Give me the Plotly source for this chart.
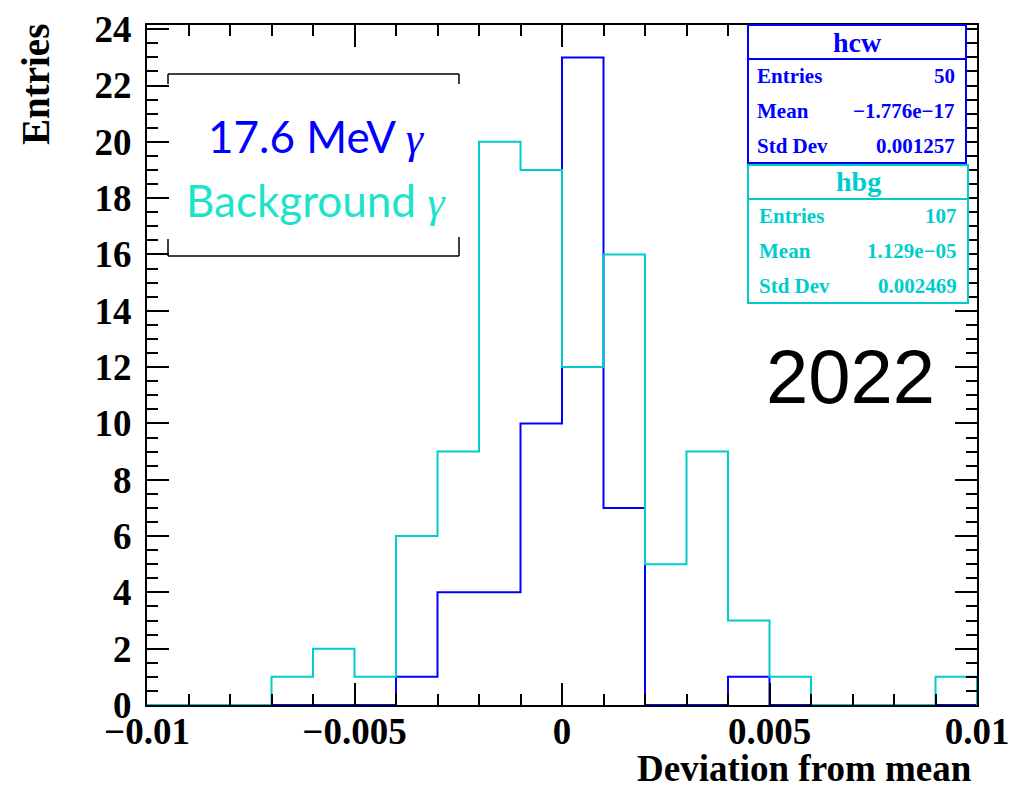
import plotly.graph_objects as go

# ---- data ----
bin_edges = [round(-0.010 + 0.001 * i, 3) for i in range(21)]
hcw_counts = [0, 0, 0, 0, 0, 0, 1, 4, 4, 10, 23, 7, 0, 0, 1, 0, 0, 0, 0, 0]
hbg_counts = [0, 0, 0, 1, 2, 1, 6, 9, 20, 19, 12, 16, 5, 9, 3, 1, 0, 0, 0, 1]
x_tickvals = [-0.01, -0.005, 0, 0.005, 0.01]
x_ticktext = ["\u22120.01", "\u22120.005", "0", "0.005", "0.01"]
y_tickvals = [0, 2, 4, 6, 8, 10, 12, 14, 16, 18, 20, 22, 24]
hcw_stats = [("Entries", "50"), ("Mean", "\u22121.776e\u221217"), ("Std Dev", "0.001257")]
hbg_stats = [("Entries", "107"), ("Mean", "1.129e\u221205"), ("Std Dev", "0.002469")]

BLUE = "#0000ff"
CYAN = "#00cccc"
TEAL = "#1ee3cb"

W, H = 1015, 792
L, R, T, B = 147, 977, 25, 705


def px(x):
    return (x - L) / (R - L)


def py(y):
    return (B - y) / (B - T)


def step(edges, counts):
    xs = [edges[0]] + list(edges) + [edges[-1]]
    ys = [0] + list(counts) + [counts[-1], 0]
    return xs, ys


fig = go.Figure()
for counts, color, name in [(hcw_counts, BLUE, "hcw"), (hbg_counts, CYAN, "hbg")]:
    xs, ys = step(bin_edges, counts)
    fig.add_trace(go.Scatter(x=xs, y=ys, mode="lines", line=dict(color=color, width=2, shape="hv"),
                             name=name, showlegend=False, hoverinfo="skip"))

tickfont = dict(family="Liberation Serif", size=37, color="black", weight="bold")
fig.update_xaxes(range=[-0.01, 0.01], tickvals=x_tickvals, ticktext=x_ticktext,
                 ticks="inside", ticklen=22, tickwidth=1.5, tickcolor="black",
                 minor=dict(dtick=0.001, tick0=0, ticks="inside", ticklen=11, tickwidth=1.5, tickcolor="black"),
                 showline=True, linecolor="black", linewidth=2, mirror="allticks",
                 showgrid=False, zeroline=False, tickfont=tickfont, automargin=False,
                 ticklabelstandoff=-7)
fig.update_yaxes(range=[0, 24.15], tickvals=y_tickvals,
                 ticks="inside", ticklen=22, tickwidth=1.5, tickcolor="black",
                 minor=dict(dtick=0.5, tick0=0, ticks="inside", ticklen=11, tickwidth=1.5, tickcolor="black"),
                 showline=True, linecolor="black", linewidth=2, mirror="allticks",
                 showgrid=False, zeroline=False, tickfont=tickfont, ticklabelstandoff=6, automargin=False)

shapes = []
annotations = []


def line(x0, y0, x1, y1, color="black", width=1.5):
    shapes.append(dict(type="line", xref="paper", yref="paper", x0=px(x0), y0=py(y0), x1=px(x1), y1=py(y1),
                       line=dict(color=color, width=width)))


def text(x, y, s, size, color="black", family="Liberation Serif", xanchor="center", yanchor="middle", angle=0):
    annotations.append(dict(xref="paper", yref="paper", x=px(x), y=py(y), text=s, showarrow=False,
                            xanchor=xanchor, yanchor=yanchor, textangle=angle,
                            font=dict(family=family, size=size, color=color)))


# stats boxes
def stats_box(x0, x1, y0, ydiv, y1, color, title, rows, xl, xr):
    shapes.append(dict(type="rect", xref="paper", yref="paper", x0=px(x0), x1=px(x1), y0=py(y0), y1=py(y1),
                       line=dict(color=color, width=2), fillcolor="white"))
    line(x0, ydiv, x1, ydiv, color, 2)
    text((x0 + x1) / 2, (y0 + ydiv) / 2, "<b>%s</b>" % title, 28, color)
    step_h = (y1 - ydiv) / 3
    for i, (k, v) in enumerate(rows):
        yc = ydiv + step_h * (i + 0.5)
        text(xl, yc, "<b>%s</b>" % k, 21, color, xanchor="left")
        text(xr, yc, "<b>%s</b>" % v, 21, color, xanchor="right")


stats_box(748, 966, 25, 59, 163, BLUE, "hcw", hcw_stats, 755, 957)
stats_box(748, 968, 165, 199, 303, CYAN, "hbg", hbg_stats, 757, 959)

# legend bracket frame
line(168, 74, 459, 74)
line(168, 74, 168, 84)
line(459, 74, 459, 84)
line(168, 256, 459, 256)
line(168, 239, 168, 256)
line(459, 237, 459, 256)

gamma = '<span style="font-family:Liberation Serif"><i>\u03b3</i></span>'
text(316, 136, "17.6 MeV " + gamma, 44, BLUE, family="Lato")
text(316, 201, "Background " + gamma, 44, TEAL, family="Lato")

text(850, 377, "2022", 76, "black", family="Liberation Sans")

# axis titles
text(974, 768, "<b>Deviation from mean</b>", 37, xanchor="right")
text(35, 85, "<b>Entries</b>", 39, angle=-90)

fig.update_layout(width=W, height=H, autosize=False,
                  margin=dict(l=L, r=W - R, t=T, b=H - B),
                  paper_bgcolor="white", plot_bgcolor="white",
                  shapes=shapes, annotations=annotations, showlegend=False)

fig.write_html("out.html")
